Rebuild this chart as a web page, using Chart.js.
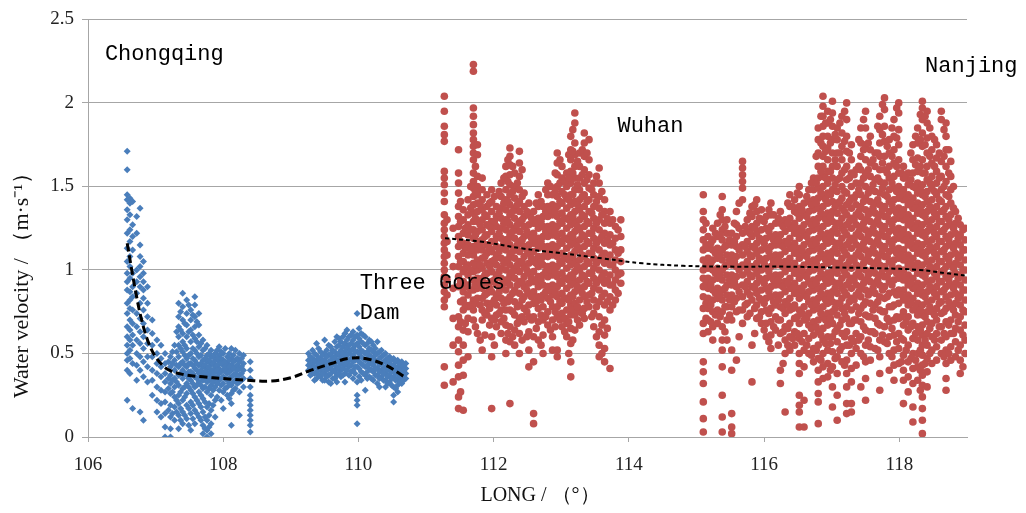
<!DOCTYPE html>
<html>
<head>
<meta charset="utf-8">
<script src="https://cdn.jsdelivr.net/npm/chart.js@4.4.1/dist/chart.umd.min.js"></script>
<style>
  html, body { margin: 0; padding: 0; background: #fff; }
  #wrap { width: 1026px; height: 513px; position: relative; }
</style>
</head>
<body>
<div id="wrap"><canvas id="chartVelocidad"></canvas></div>
<script>
// Velocidad del agua a lo largo del río: cada columna = [longitud, [velocidades...]]

// tramo Chongqing (aguas arriba)
const chongqingCols = [
  [106.58, [1.71, 1.60, 1.45, 1.42, 1.36, 1.30, 1.22, 1.13, 1.05, 0.98, 0.93, 0.88, 0.80, 0.74, 0.66, 0.60, 0.55, 0.50, 0.46, 0.40, 0.22]],
  [106.62, [1.43, 1.40, 1.33, 1.24, 1.17, 1.08, 1.02, 0.95, 0.87, 0.82, 0.77, 0.70, 0.64, 0.58, 0.52, 0.47, 0.38]],
  [106.66, [1.41, 1.27, 1.20, 1.12, 0.98, 0.90, 0.84, 0.76, 0.68, 0.61, 0.55, 0.44, 0.17]],
  [106.72, [1.32, 1.22, 1.00, 0.93, 0.86, 0.74, 0.66, 0.58, 0.50, 0.43, 0.34]],
  [106.77, [1.37, 1.15, 1.08, 1.02, 0.96, 0.90, 0.80, 0.71, 0.63, 0.56, 0.48, 0.40, 0.15]],
  [106.82, [1.05, 0.98, 0.93, 0.88, 0.83, 0.76, 0.68, 0.60, 0.53, 0.45, 0.36, 0.10]],
  [106.88, [0.90, 0.80, 0.72, 0.64, 0.56, 0.48, 0.42, 0.33]],
  [106.95, [0.70, 0.62, 0.55, 0.48, 0.40, 0.34, 0.25]],
  [107.02, [0.58, 0.50, 0.44, 0.38, 0.30, 0.22, 0.15]],
  [107.08, [0.55, 0.47, 0.42, 0.36, 0.28, 0.20, 0.12]],
  [107.14, [0.50, 0.44, 0.38, 0.33, 0.27, 0.21, 0.14, 0.06, 0.00]],
  [107.22, [0.48, 0.42, 0.37, 0.32, 0.26, 0.19, 0.12, 0.05, 0.00]],
  [107.28, [0.55, 0.46, 0.40, 0.35, 0.30, 0.24, 0.18, 0.10]],
  [107.34, [0.80, 0.72, 0.66, 0.60, 0.55, 0.48, 0.42, 0.37, 0.31, 0.25, 0.20, 0.13, 0.05]],
  [107.40, [0.86, 0.78, 0.70, 0.62, 0.57, 0.51, 0.45, 0.40, 0.35, 0.29, 0.22, 0.15, 0.08]],
  [107.46, [0.82, 0.74, 0.67, 0.60, 0.53, 0.47, 0.42, 0.37, 0.32, 0.26, 0.19, 0.11]],
  [107.52, [0.76, 0.70, 0.64, 0.57, 0.50, 0.44, 0.39, 0.34, 0.28, 0.21, 0.14, 0.04]],
  [107.58, [0.84, 0.79, 0.72, 0.66, 0.59, 0.52, 0.46, 0.41, 0.36, 0.30, 0.24, 0.16, 0.08]],
  [107.64, [0.74, 0.67, 0.61, 0.54, 0.48, 0.43, 0.38, 0.33, 0.27, 0.20, 0.12]],
  [107.70, [0.58, 0.52, 0.46, 0.42, 0.38, 0.34, 0.29, 0.23, 0.15, 0.07, 0.02]],
  [107.76, [0.55, 0.49, 0.45, 0.41, 0.37, 0.33, 0.27, 0.18, 0.10, 0.04, 0.00]],
  [107.82, [0.52, 0.48, 0.44, 0.40, 0.36, 0.31, 0.25, 0.16, 0.08, 0.02]],
  [107.88, [0.50, 0.46, 0.42, 0.39, 0.35, 0.30, 0.22, 0.12]],
  [107.94, [0.54, 0.49, 0.45, 0.41, 0.38, 0.34, 0.28]],
  [108.00, [0.50, 0.46, 0.43, 0.40, 0.36, 0.32, 0.27, 0.17]],
  [108.06, [0.48, 0.44, 0.41, 0.38, 0.34, 0.30, 0.25]],
  [108.12, [0.53, 0.47, 0.43, 0.40, 0.36, 0.31, 0.26, 0.20, 0.07]],
  [108.18, [0.52, 0.46, 0.42, 0.38, 0.34, 0.29]],
  [108.24, [0.50, 0.45, 0.41, 0.37, 0.33, 0.27, 0.13]],
  [108.30, [0.49, 0.44, 0.40, 0.35, 0.30]],
  [108.40, [0.45, 0.40, 0.35, 0.30, 0.25, 0.22, 0.19, 0.16, 0.13, 0.10, 0.07, 0.03]],
  // mediciones intermedias
  [107.19, [0.45, 0.35, 0.29, 0.16]],
  [107.25, [0.51, 0.44, 0.34, 0.27, 0.14]],
  [107.31, [0.63, 0.51, 0.43, 0.33, 0.22, 0.15]],
  [107.37, [0.75, 0.64, 0.53, 0.44, 0.38, 0.27, 0.17, 0.10]],
  [107.43, [0.68, 0.55, 0.49, 0.43, 0.38, 0.30, 0.24, 0.13]],
  [107.49, [0.79, 0.63, 0.49, 0.44, 0.39, 0.35, 0.30, 0.17, 0.07]],
  [107.55, [0.73, 0.61, 0.53, 0.47, 0.43, 0.38, 0.32, 0.26, 0.19, 0.11]],
  [107.61, [0.69, 0.57, 0.50, 0.44, 0.40, 0.35, 0.31, 0.22, 0.14]],
  [107.67, [0.56, 0.49, 0.44, 0.40, 0.36, 0.31, 0.25, 0.18, 0.10]],
  [107.73, [0.53, 0.47, 0.43, 0.39, 0.35, 0.30, 0.21, 0.12, 0.05]],
  [107.79, [0.50, 0.46, 0.42, 0.38, 0.34, 0.29, 0.20, 0.13, 0.06]],
  [107.85, [0.48, 0.44, 0.40, 0.37, 0.33, 0.28, 0.19]],
  [107.91, [0.52, 0.47, 0.43, 0.40, 0.36, 0.32, 0.24]],
  [107.97, [0.51, 0.47, 0.44, 0.39, 0.35, 0.31, 0.22]],
  [108.03, [0.53, 0.45, 0.42, 0.39, 0.35, 0.29]],
  [108.09, [0.50, 0.46, 0.42, 0.39, 0.35, 0.32, 0.23]],
  [108.15, [0.49, 0.45, 0.41, 0.37, 0.33, 0.28]],
  [108.21, [0.47, 0.43, 0.40, 0.36, 0.32]],
  [108.27, [0.47, 0.42, 0.38, 0.34]]
];

// tramo de la presa de las Tres Gargantas
const tresGargantasCols = [
  [109.26, [0.50, 0.46, 0.43, 0.40]],
  [109.32, [0.52, 0.47, 0.44, 0.41, 0.38]],
  [109.38, [0.56, 0.49, 0.45, 0.42, 0.39, 0.35]],
  [109.44, [0.51, 0.47, 0.43, 0.40, 0.36]],
  [109.50, [0.58, 0.50, 0.46, 0.42, 0.38, 0.34]],
  [109.56, [0.55, 0.49, 0.45, 0.41, 0.37, 0.33]],
  [109.62, [0.52, 0.48, 0.44, 0.40, 0.35]],
  [109.68, [0.60, 0.54, 0.49, 0.45, 0.41, 0.37, 0.33]],
  [109.74, [0.57, 0.52, 0.48, 0.44, 0.40, 0.36]],
  [109.80, [0.62, 0.56, 0.51, 0.47, 0.43, 0.38, 0.33]],
  [109.86, [0.60, 0.55, 0.50, 0.46, 0.42, 0.37]],
  [109.92, [0.63, 0.58, 0.53, 0.49, 0.45, 0.40, 0.35]],
  [109.98, [0.74, 0.61, 0.56, 0.51, 0.47, 0.42, 0.33, 0.25, 0.22, 0.19, 0.08]],
  [110.04, [0.62, 0.57, 0.52, 0.48, 0.44, 0.39, 0.34]],
  [110.10, [0.60, 0.55, 0.50, 0.46, 0.42, 0.37, 0.28]],
  [110.16, [0.58, 0.53, 0.49, 0.45, 0.41, 0.36]],
  [110.22, [0.55, 0.51, 0.47, 0.43, 0.39, 0.34]],
  [110.28, [0.57, 0.50, 0.45, 0.41, 0.37, 0.32]],
  [110.34, [0.52, 0.48, 0.44, 0.40, 0.36]],
  [110.40, [0.50, 0.46, 0.42, 0.38, 0.34, 0.30]],
  [110.46, [0.48, 0.44, 0.40, 0.37, 0.33]],
  [110.52, [0.47, 0.43, 0.40, 0.36, 0.30, 0.25, 0.21]],
  [110.58, [0.46, 0.42, 0.39, 0.35, 0.31, 0.27]],
  [110.64, [0.45, 0.42, 0.38, 0.35, 0.32]],
  [110.70, [0.44, 0.41, 0.38, 0.35]],
  // mediciones intermedias
  [109.29, [0.48, 0.44, 0.41, 0.37]],
  [109.35, [0.50, 0.46, 0.42, 0.38, 0.34]],
  [109.41, [0.53, 0.47, 0.44, 0.40, 0.37]],
  [109.47, [0.49, 0.45, 0.41, 0.38, 0.34]],
  [109.53, [0.52, 0.48, 0.44, 0.40, 0.36]],
  [109.59, [0.54, 0.50, 0.46, 0.42, 0.38, 0.32]],
  [109.65, [0.57, 0.51, 0.47, 0.43, 0.39, 0.35]],
  [109.71, [0.59, 0.55, 0.50, 0.46, 0.42, 0.38]],
  [109.77, [0.60, 0.54, 0.50, 0.45, 0.41, 0.37]],
  [109.83, [0.64, 0.58, 0.53, 0.49, 0.44, 0.40]],
  [109.89, [0.61, 0.56, 0.52, 0.47, 0.43, 0.39]],
  [109.95, [0.60, 0.55, 0.51, 0.46, 0.42, 0.38]],
  [110.01, [0.65, 0.59, 0.54, 0.50, 0.45, 0.41, 0.36]],
  [110.07, [0.61, 0.56, 0.51, 0.47, 0.43, 0.38]],
  [110.13, [0.56, 0.51, 0.47, 0.43, 0.39, 0.35]],
  [110.19, [0.57, 0.52, 0.48, 0.44, 0.40, 0.35]],
  [110.25, [0.53, 0.49, 0.45, 0.41, 0.37]],
  [110.31, [0.51, 0.47, 0.43, 0.39, 0.35, 0.30]],
  [110.37, [0.49, 0.45, 0.41, 0.38, 0.34]],
  [110.43, [0.47, 0.44, 0.40, 0.36, 0.32]],
  [110.49, [0.46, 0.42, 0.39, 0.35, 0.31]],
  [110.55, [0.45, 0.41, 0.38, 0.34, 0.29]],
  [110.61, [0.44, 0.40, 0.37, 0.33]],
  [110.67, [0.43, 0.40, 0.37, 0.34]]
];

// tramo Wuhan
const wuhanCols = [
  [111.27, [2.04, 1.95, 1.86, 1.81, 1.77, 1.59, 1.55, 1.51, 1.46, 1.41, 1.33, 1.28, 1.24, 1.20, 1.16, 1.12, 1.08, 1.04, 1.00, 0.96, 0.91, 0.87, 0.82, 0.78, 0.42, 0.31]],
  [111.48, [1.72, 1.58, 1.52, 1.46, 1.38, 1.32, 1.26, 1.20, 1.14, 1.08, 1.02, 0.96, 0.90, 0.72, 0.66, 0.58, 0.51, 0.43, 0.36, 0.24, 0.17]],
  [111.55, [1.36, 1.30, 1.22, 1.16, 1.10, 1.05, 0.99, 0.93, 0.87, 0.82, 0.76, 0.64, 0.55, 0.46, 0.37, 0.16]],
  [111.62, [1.42, 1.33, 1.27, 1.21, 1.15, 1.09, 1.03, 0.97, 0.91, 0.85, 0.78, 0.71, 0.63, 0.48]],
  [111.70, [2.23, 2.19, 1.97, 1.92, 1.87, 1.82, 1.78, 1.74, 1.70, 1.66, 1.58, 1.53, 1.49, 1.44, 1.39, 1.34, 1.29, 1.24, 1.19, 1.14, 1.09, 1.04, 0.99, 0.94, 0.88, 0.82, 0.76, 0.70]],
  [111.76, [1.75, 1.69, 1.56, 1.50, 1.45, 1.40, 1.35, 1.29, 1.23, 1.17, 1.12, 1.06, 1.00, 0.95, 0.89, 0.83, 0.62]],
  [111.83, [1.55, 1.48, 1.42, 1.36, 1.30, 1.24, 1.18, 1.12, 1.07, 1.01, 0.95, 0.89, 0.83, 0.76, 0.70, 0.52]],
  [111.90, [1.45, 1.38, 1.32, 1.27, 1.21, 1.15, 1.10, 1.04, 0.98, 0.92, 0.86, 0.80, 0.73]],
  [111.97, [1.48, 1.41, 1.35, 1.29, 1.23, 1.17, 1.11, 1.05, 0.99, 0.93, 0.87, 0.80, 0.71, 0.60, 0.48, 0.17]],
  [112.04, [1.38, 1.32, 1.26, 1.20, 1.14, 1.09, 1.03, 0.97, 0.91, 0.85, 0.79, 0.73, 0.66]],
  [112.11, [1.52, 1.44, 1.37, 1.31, 1.25, 1.19, 1.13, 1.07, 1.01, 0.95, 0.89, 0.83, 0.76, 0.69, 0.62]],
  [112.18, [1.62, 1.56, 1.48, 1.42, 1.36, 1.30, 1.24, 1.18, 1.12, 1.06, 1.00, 0.94, 0.88, 0.82, 0.76, 0.67, 0.58, 0.50]],
  [112.24, [1.73, 1.68, 1.63, 1.57, 1.51, 1.45, 1.39, 1.33, 1.27, 1.21, 1.15, 1.09, 1.03, 0.97, 0.91, 0.84, 0.76, 0.66, 0.57, 0.20]],
  [112.31, [1.58, 1.50, 1.43, 1.37, 1.31, 1.25, 1.19, 1.13, 1.07, 1.01, 0.95, 0.88, 0.81, 0.73, 0.64, 0.55]],
  [112.38, [1.71, 1.64, 1.56, 1.48, 1.41, 1.35, 1.29, 1.23, 1.17, 1.11, 1.05, 0.99, 0.93, 0.86, 0.79, 0.71, 0.62, 0.50]],
  [112.45, [1.46, 1.38, 1.32, 1.26, 1.20, 1.14, 1.08, 1.02, 0.96, 0.90, 0.84, 0.77, 0.69]],
  [112.52, [1.40, 1.33, 1.27, 1.21, 1.15, 1.10, 1.04, 0.98, 0.92, 0.86, 0.79, 0.72, 0.63, 0.52, 0.42]],
  [112.59, [1.35, 1.28, 1.22, 1.16, 1.11, 1.05, 0.99, 0.93, 0.87, 0.80, 0.72, 0.60, 0.45, 0.14, 0.08]],
  [112.66, [1.45, 1.38, 1.31, 1.25, 1.19, 1.13, 1.08, 1.02, 0.96, 0.90, 0.84, 0.77, 0.69, 0.58]],
  [112.73, [1.38, 1.32, 1.26, 1.20, 1.14, 1.08, 1.03, 0.97, 0.91, 0.85, 0.78, 0.70, 0.61, 0.50]],
  [112.80, [1.52, 1.45, 1.38, 1.32, 1.26, 1.20, 1.14, 1.08, 1.02, 0.96, 0.90, 0.83, 0.75, 0.67]],
  [112.87, [1.45, 1.39, 1.33, 1.27, 1.21, 1.15, 1.09, 1.03, 0.97, 0.91, 0.85, 0.78, 0.70, 0.60, 0.52]],
  [112.94, [1.70, 1.64, 1.57, 1.50, 1.44, 1.38, 1.32, 1.26, 1.20, 1.14, 1.08, 1.02, 0.96, 0.90, 0.84, 0.78, 0.72, 0.52, 0.48]],
  [113.01, [1.62, 1.55, 1.47, 1.40, 1.34, 1.28, 1.22, 1.16, 1.10, 1.04, 0.98, 0.92, 0.86, 0.80, 0.74, 0.66]],
  [113.08, [1.58, 1.50, 1.43, 1.37, 1.31, 1.25, 1.19, 1.13, 1.07, 1.01, 0.95, 0.89, 0.83, 0.76, 0.68, 0.60]],
  [113.14, [1.80, 1.72, 1.66, 1.59, 1.52, 1.45, 1.39, 1.33, 1.27, 1.21, 1.15, 1.09, 1.03, 0.97, 0.91, 0.85, 0.79, 0.73, 0.65, 0.56, 0.45, 0.36]],
  [113.20, [1.94, 1.88, 1.76, 1.69, 1.62, 1.55, 1.48, 1.41, 1.35, 1.29, 1.23, 1.17, 1.11, 1.05, 0.99, 0.93, 0.87, 0.80, 0.73, 0.64]],
  [113.27, [1.70, 1.62, 1.55, 1.48, 1.42, 1.36, 1.30, 1.24, 1.18, 1.12, 1.06, 1.00, 0.94, 0.88, 0.82, 0.75, 0.67]],
  [113.34, [1.82, 1.76, 1.68, 1.60, 1.52, 1.45, 1.38, 1.32, 1.26, 1.20, 1.14, 1.08, 1.02, 0.96, 0.90, 0.84, 0.77, 0.71]],
  [113.41, [1.78, 1.66, 1.57, 1.49, 1.42, 1.35, 1.28, 1.22, 1.16, 1.10, 1.04, 0.98, 0.92, 0.85, 0.78]],
  [113.48, [1.52, 1.45, 1.38, 1.31, 1.25, 1.19, 1.13, 1.07, 1.01, 0.95, 0.89, 0.82, 0.74, 0.66]],
  [113.56, [1.61, 1.52, 1.44, 1.37, 1.30, 1.24, 1.18, 1.12, 1.06, 1.00, 0.94, 0.88, 0.81, 0.72, 0.63, 0.55, 0.48]],
  [113.64, [1.42, 1.35, 1.28, 1.22, 1.16, 1.10, 1.04, 0.98, 0.92, 0.86, 0.79, 0.70, 0.61, 0.53, 0.45]],
  [113.72, [1.35, 1.28, 1.21, 1.15, 1.09, 1.03, 0.97, 0.91, 0.84, 0.76, 0.41]],
  [113.80, [1.26, 1.19, 1.12, 1.06, 1.00, 0.94, 0.88, 0.82]],
  [113.88, [1.30, 1.20, 1.12, 1.05, 0.98, 0.92]],
  // mediciones intermedias
  [111.31, [1.30, 1.17, 1.09, 0.94, 0.85]],
  [111.40, [1.25, 1.02, 0.89, 0.71, 0.55, 0.33]],
  [111.51, [1.41, 1.29, 1.17, 1.05, 0.93, 0.81, 0.69, 0.27]],
  [111.58, [1.25, 1.13, 1.01, 0.90, 0.79, 0.68]],
  [111.66, [1.50, 1.37, 1.24, 1.12, 1.00, 0.88, 0.79]],
  [111.73, [1.62, 1.47, 1.31, 1.21, 1.03, 0.91, 0.80, 0.66]],
  [111.80, [1.39, 1.27, 1.15, 1.03, 0.92, 0.79, 0.58]],
  [111.87, [1.33, 1.20, 1.08, 0.97, 0.85, 0.74, 0.61]],
  [111.94, [1.40, 1.26, 1.13, 1.02, 0.89, 0.77, 0.67]],
  [112.01, [1.44, 1.29, 1.17, 1.06, 0.94, 0.82, 0.70, 0.55]],
  [112.08, [1.47, 1.34, 1.22, 1.11, 0.99, 0.87, 0.74]],
  [112.15, [1.55, 1.40, 1.28, 1.16, 1.04, 0.92, 0.80, 0.71]],
  [112.21, [1.66, 1.53, 1.41, 1.29, 1.18, 1.06, 0.94, 0.81, 0.62]],
  [112.28, [1.62, 1.47, 1.35, 1.23, 1.11, 0.99, 0.86, 0.75, 0.60]],
  [112.35, [1.52, 1.39, 1.27, 1.15, 1.03, 0.91, 0.78, 0.68]],
  [112.42, [1.60, 1.44, 1.30, 1.18, 1.05, 0.93, 0.82, 0.72, 0.58]],
  [112.49, [1.35, 1.23, 1.12, 1.00, 0.88, 0.75, 0.60]],
  [112.56, [1.31, 1.19, 1.07, 0.95, 0.84, 0.70]],
  [112.63, [1.40, 1.28, 1.16, 1.04, 0.93, 0.81, 0.65]],
  [112.70, [1.41, 1.29, 1.17, 1.05, 0.94, 0.82, 0.73, 0.55]],
  [112.77, [1.48, 1.35, 1.23, 1.11, 0.99, 0.87, 0.72]],
  [112.84, [1.50, 1.36, 1.24, 1.12, 1.00, 0.88, 0.81, 0.64]],
  [112.91, [1.58, 1.47, 1.35, 1.23, 1.11, 0.99, 0.87, 0.75, 0.66]],
  [112.98, [1.66, 1.52, 1.41, 1.29, 1.17, 1.05, 0.93, 0.81, 0.70]],
  [113.05, [1.53, 1.45, 1.31, 1.19, 1.07, 0.95, 0.83, 0.71, 0.63]],
  [113.11, [1.69, 1.55, 1.42, 1.30, 1.18, 1.06, 0.94, 0.82, 0.69, 0.50]],
  [113.17, [1.84, 1.71, 1.58, 1.45, 1.32, 1.20, 1.08, 0.96, 0.84, 0.76, 0.58]],
  [113.24, [1.65, 1.51, 1.39, 1.26, 1.14, 1.02, 0.90, 0.78, 0.70]],
  [113.31, [1.72, 1.57, 1.44, 1.33, 1.21, 1.09, 0.97, 0.86, 0.74]],
  [113.38, [1.70, 1.54, 1.41, 1.29, 1.17, 1.05, 0.93, 0.81]],
  [113.45, [1.48, 1.34, 1.22, 1.10, 0.98, 0.86, 0.72]],
  [113.52, [1.56, 1.41, 1.28, 1.16, 1.04, 0.92, 0.78, 0.60]],
  [113.60, [1.47, 1.33, 1.20, 1.08, 0.96, 0.84, 0.67, 0.50]],
  [113.68, [1.31, 1.18, 1.06, 0.94, 0.81, 0.65]],
  [113.76, [1.30, 1.16, 1.03, 0.91, 0.79]],
  [113.84, [1.24, 1.10, 0.97, 0.86]]
];

// tramo Nanjing (aguas abajo)
const nanjingCols = [
  [115.10, [1.45, 1.35, 1.30, 1.24, 1.18, 1.12, 1.06, 1.00, 0.95, 0.90, 0.84, 0.77, 0.68, 0.62, 0.45, 0.39, 0.32, 0.21, 0.11, 0.03]],
  [115.17, [1.20, 1.13, 1.07, 1.01, 0.95, 0.89, 0.83, 0.77, 0.70, 0.63]],
  [115.24, [1.25, 1.18, 1.12, 1.06, 1.00, 0.94, 0.88, 0.82, 0.75, 0.66, 0.58]],
  [115.31, [1.28, 1.20, 1.13, 1.07, 1.01, 0.95, 0.89, 0.83, 0.76, 0.68]],
  [115.38, [1.44, 1.36, 1.30, 1.24, 1.18, 1.12, 1.06, 1.00, 0.94, 0.88, 0.82, 0.75, 0.66, 0.58, 0.52, 0.42, 0.25, 0.12, 0.03]],
  [115.45, [1.30, 1.22, 1.15, 1.09, 1.03, 0.97, 0.91, 0.85, 0.78, 0.70, 0.58]],
  [115.52, [1.22, 1.15, 1.09, 1.03, 0.97, 0.91, 0.85, 0.78, 0.70, 0.52, 0.40, 0.14, 0.06, 0.02]],
  [115.59, [1.35, 1.27, 1.20, 1.14, 1.08, 1.02, 0.96, 0.90, 0.83, 0.75, 0.46]],
  [115.68, [1.65, 1.61, 1.57, 1.53, 1.49, 1.42, 1.22, 1.15, 1.09, 1.03, 0.97, 0.91, 0.84, 0.76, 0.68]],
  [115.75, [1.30, 1.23, 1.17, 1.11, 1.05, 0.99, 0.93, 0.87, 0.80, 0.72]],
  [115.82, [1.38, 1.32, 1.26, 1.20, 1.14, 1.08, 1.02, 0.96, 0.90, 0.82, 0.55, 0.33]],
  [115.89, [1.42, 1.35, 1.28, 1.22, 1.16, 1.10, 1.04, 0.98, 0.92, 0.86, 0.79, 0.71]],
  [115.96, [1.36, 1.30, 1.24, 1.18, 1.12, 1.06, 1.00, 0.94, 0.88, 0.82, 0.75, 0.68]],
  [116.03, [1.32, 1.25, 1.19, 1.13, 1.07, 1.01, 0.95, 0.89, 0.83, 0.76, 0.68, 0.60]],
  [116.10, [1.40, 1.33, 1.26, 1.20, 1.14, 1.08, 1.02, 0.96, 0.90, 0.84, 0.77, 0.69, 0.61, 0.53]],
  [116.17, [1.28, 1.21, 1.15, 1.09, 1.03, 0.97, 0.91, 0.85, 0.79, 0.72, 0.64]],
  [116.24, [1.35, 1.28, 1.21, 1.15, 1.09, 1.03, 0.97, 0.91, 0.85, 0.78, 0.70, 0.62, 0.40, 0.32]],
  [116.31, [1.30, 1.23, 1.17, 1.11, 1.05, 0.99, 0.93, 0.87, 0.81, 0.74, 0.66, 0.58, 0.50, 0.15]],
  [116.38, [1.45, 1.38, 1.31, 1.25, 1.19, 1.13, 1.07, 1.01, 0.95, 0.89, 0.83, 0.76, 0.68, 0.60, 0.52]],
  [116.45, [1.42, 1.35, 1.28, 1.22, 1.16, 1.10, 1.04, 0.98, 0.92, 0.86, 0.79, 0.71, 0.63, 0.55]],
  [116.52, [1.50, 1.45, 1.38, 1.31, 1.25, 1.19, 1.13, 1.07, 1.01, 0.95, 0.89, 0.83, 0.76, 0.68, 0.59, 0.50, 0.44, 0.38, 0.25, 0.19, 0.15, 0.06]],
  [116.59, [1.40, 1.33, 1.27, 1.21, 1.15, 1.09, 1.03, 0.97, 0.91, 0.85, 0.78, 0.70, 0.62, 0.52, 0.42, 0.22, 0.06]],
  [116.66, [1.48, 1.41, 1.35, 1.29, 1.23, 1.17, 1.11, 1.05, 0.99, 0.93, 0.87, 0.81, 0.74, 0.67, 0.59, 0.50]],
  [116.73, [1.55, 1.48, 1.42, 1.36, 1.30, 1.24, 1.18, 1.12, 1.06, 1.00, 0.94, 0.88, 0.82, 0.76, 0.69, 0.61, 0.53, 0.45]],
  [116.80, [1.85, 1.78, 1.70, 1.62, 1.55, 1.49, 1.43, 1.37, 1.31, 1.25, 1.19, 1.13, 1.07, 1.01, 0.95, 0.89, 0.83, 0.77, 0.70, 0.63, 0.55, 0.47, 0.40, 0.33, 0.26, 0.21, 0.08]],
  [116.87, [2.04, 1.98, 1.92, 1.86, 1.80, 1.74, 1.68, 1.62, 1.56, 1.50, 1.44, 1.38, 1.32, 1.26, 1.20, 1.14, 1.08, 1.02, 0.96, 0.90, 0.84, 0.78, 0.72, 0.65, 0.58, 0.50, 0.42, 0.35]],
  [116.94, [1.95, 1.88, 1.80, 1.73, 1.66, 1.59, 1.52, 1.46, 1.40, 1.34, 1.28, 1.22, 1.16, 1.10, 1.04, 0.98, 0.92, 0.86, 0.80, 0.74, 0.67, 0.60, 0.52, 0.44, 0.36]],
  [117.01, [2.01, 1.94, 1.86, 1.78, 1.70, 1.62, 1.55, 1.48, 1.41, 1.35, 1.29, 1.23, 1.17, 1.11, 1.05, 0.99, 0.93, 0.87, 0.81, 0.75, 0.68, 0.60, 0.51, 0.42, 0.30, 0.18]],
  [117.08, [1.85, 1.78, 1.70, 1.62, 1.54, 1.47, 1.40, 1.34, 1.28, 1.22, 1.16, 1.10, 1.04, 0.98, 0.92, 0.86, 0.80, 0.73, 0.65, 0.57, 0.48, 0.38, 0.25, 0.10]],
  [117.15, [1.92, 1.82, 1.74, 1.66, 1.58, 1.50, 1.43, 1.37, 1.31, 1.25, 1.19, 1.13, 1.07, 1.01, 0.95, 0.89, 0.83, 0.77, 0.70, 0.62, 0.54, 0.45]],
  [117.22, [2.00, 1.90, 1.80, 1.71, 1.62, 1.54, 1.46, 1.39, 1.33, 1.27, 1.21, 1.15, 1.09, 1.03, 0.97, 0.91, 0.85, 0.78, 0.71, 0.63, 0.55, 0.46, 0.38, 0.30, 0.20, 0.14]],
  [117.29, [1.75, 1.66, 1.58, 1.50, 1.43, 1.37, 1.31, 1.25, 1.19, 1.13, 1.07, 1.01, 0.95, 0.89, 0.83, 0.76, 0.68, 0.59, 0.50, 0.41, 0.33, 0.20, 0.15]],
  [117.36, [1.60, 1.52, 1.45, 1.39, 1.33, 1.27, 1.21, 1.15, 1.09, 1.03, 0.97, 0.91, 0.85, 0.78, 0.70, 0.62, 0.53, 0.43]],
  [117.43, [1.85, 1.76, 1.68, 1.60, 1.52, 1.45, 1.38, 1.32, 1.26, 1.20, 1.14, 1.08, 1.02, 0.96, 0.90, 0.84, 0.77, 0.69, 0.60, 0.50, 0.30]],
  [117.50, [1.95, 1.85, 1.75, 1.66, 1.58, 1.50, 1.43, 1.36, 1.30, 1.24, 1.18, 1.12, 1.06, 1.00, 0.94, 0.88, 0.81, 0.73, 0.64, 0.55, 0.45, 0.35, 0.22]],
  [117.57, [1.80, 1.72, 1.64, 1.56, 1.48, 1.41, 1.35, 1.29, 1.23, 1.17, 1.11, 1.05, 0.99, 0.93, 0.87, 0.80, 0.72, 0.63, 0.54, 0.46]],
  [117.64, [1.70, 1.62, 1.54, 1.47, 1.40, 1.34, 1.28, 1.22, 1.16, 1.10, 1.04, 0.98, 0.92, 0.86, 0.79, 0.71, 0.62, 0.53]],
  [117.71, [1.92, 1.84, 1.76, 1.68, 1.60, 1.53, 1.46, 1.39, 1.33, 1.27, 1.21, 1.15, 1.09, 1.03, 0.97, 0.91, 0.84, 0.76, 0.67, 0.58, 0.48, 0.38, 0.28]],
  [117.78, [2.03, 1.96, 1.86, 1.77, 1.68, 1.60, 1.52, 1.45, 1.38, 1.32, 1.26, 1.20, 1.14, 1.08, 1.02, 0.96, 0.90, 0.83, 0.75, 0.66, 0.57]],
  [117.85, [1.78, 1.70, 1.62, 1.55, 1.48, 1.41, 1.35, 1.29, 1.23, 1.17, 1.11, 1.05, 0.99, 0.93, 0.86, 0.78, 0.69, 0.60, 0.50, 0.40]],
  [117.92, [1.90, 1.80, 1.72, 1.64, 1.56, 1.49, 1.42, 1.36, 1.30, 1.24, 1.18, 1.12, 1.06, 1.00, 0.94, 0.87, 0.79, 0.70, 0.61, 0.52, 0.43, 0.34]],
  [117.99, [2.00, 1.94, 1.84, 1.75, 1.66, 1.58, 1.50, 1.43, 1.37, 1.31, 1.25, 1.19, 1.13, 1.07, 1.01, 0.95, 0.88, 0.80, 0.71, 0.62, 0.53, 0.44]],
  [118.06, [1.62, 1.55, 1.48, 1.42, 1.36, 1.30, 1.24, 1.18, 1.12, 1.06, 1.00, 0.94, 0.88, 0.82, 0.75, 0.67, 0.58, 0.49, 0.40, 0.34, 0.20]],
  [118.13, [1.58, 1.51, 1.45, 1.39, 1.33, 1.27, 1.21, 1.15, 1.09, 1.03, 0.97, 0.91, 0.85, 0.79, 0.72, 0.64, 0.55, 0.45, 0.36, 0.27]],
  [118.20, [1.75, 1.66, 1.58, 1.50, 1.43, 1.37, 1.31, 1.25, 1.19, 1.13, 1.07, 1.01, 0.95, 0.89, 0.83, 0.76, 0.68, 0.59, 0.50, 0.41, 0.32, 0.18, 0.09]],
  [118.27, [1.85, 1.76, 1.67, 1.59, 1.52, 1.46, 1.40, 1.34, 1.28, 1.22, 1.16, 1.10, 1.04, 0.98, 0.92, 0.86, 0.80, 0.73, 0.66, 0.58, 0.50, 0.42, 0.34]],
  [118.34, [2.01, 1.97, 1.90, 1.82, 1.74, 1.66, 1.58, 1.51, 1.45, 1.39, 1.33, 1.27, 1.21, 1.15, 1.09, 1.03, 0.97, 0.91, 0.85, 0.79, 0.73, 0.67, 0.61, 0.55, 0.49, 0.43, 0.37, 0.31, 0.24, 0.17, 0.10, 0.02]],
  [118.41, [1.95, 1.88, 1.79, 1.70, 1.62, 1.54, 1.47, 1.41, 1.35, 1.29, 1.23, 1.17, 1.11, 1.05, 0.99, 0.93, 0.87, 0.81, 0.75, 0.69, 0.62, 0.55, 0.47, 0.39, 0.30]],
  [118.48, [1.80, 1.72, 1.64, 1.56, 1.49, 1.42, 1.36, 1.30, 1.24, 1.18, 1.12, 1.06, 1.00, 0.94, 0.88, 0.82, 0.75, 0.68, 0.60, 0.52, 0.44]],
  [118.55, [1.75, 1.67, 1.59, 1.52, 1.45, 1.38, 1.32, 1.26, 1.20, 1.14, 1.08, 1.02, 0.96, 0.90, 0.84, 0.77, 0.70, 0.62, 0.54, 0.46]],
  [118.62, [1.95, 1.90, 1.65, 1.56, 1.48, 1.41, 1.35, 1.29, 1.23, 1.17, 1.11, 1.05, 0.99, 0.93, 0.87, 0.81, 0.74, 0.66, 0.58, 0.50]],
  [118.69, [1.88, 1.80, 1.72, 1.62, 1.53, 1.45, 1.38, 1.32, 1.26, 1.20, 1.14, 1.08, 1.02, 0.96, 0.90, 0.84, 0.77, 0.69, 0.60, 0.52, 0.44, 0.35, 0.28]],
  [118.76, [1.65, 1.56, 1.48, 1.40, 1.33, 1.27, 1.21, 1.15, 1.09, 1.03, 0.97, 0.91, 0.85, 0.78, 0.70, 0.62, 0.54, 0.46]],
  [118.83, [1.35, 1.28, 1.22, 1.16, 1.10, 1.04, 0.98, 0.92, 0.86, 0.80, 0.73, 0.65, 0.57, 0.48]],
  [118.90, [1.27, 1.21, 1.15, 1.09, 1.03, 0.97, 0.91, 0.85, 0.79, 0.72, 0.64, 0.55, 0.46, 0.38]],
  [118.97, [1.25, 1.18, 1.12, 1.06, 1.00, 0.94, 0.88, 0.82, 0.75, 0.67, 0.58, 0.50]],
  // mediciones intermedias
  [115.14, [1.28, 1.15, 1.03, 0.92, 0.80, 0.71]],
  [115.21, [1.16, 1.04, 0.91, 0.79, 0.69]],
  [115.28, [1.22, 1.10, 0.98, 0.86, 0.73]],
  [115.35, [1.33, 1.21, 1.09, 0.97, 0.85, 0.72]],
  [115.42, [1.26, 1.14, 1.02, 0.89, 0.78, 0.63]],
  [115.49, [1.18, 1.06, 0.94, 0.82, 0.73]],
  [115.56, [1.28, 1.17, 1.05, 0.93, 0.81]],
  [115.63, [1.40, 1.25, 1.12, 1.00, 0.87, 0.76, 0.60]],
  [115.72, [1.26, 1.14, 1.02, 0.90, 0.79]],
  [115.79, [1.34, 1.22, 1.09, 0.97, 0.85, 0.74]],
  [115.86, [1.39, 1.25, 1.13, 1.01, 0.89, 0.77, 0.62]],
  [115.93, [1.31, 1.19, 1.07, 0.95, 0.83, 0.72]],
  [116.00, [1.29, 1.16, 1.04, 0.92, 0.80, 0.64]],
  [116.07, [1.36, 1.23, 1.11, 0.99, 0.87, 0.74, 0.57]],
  [116.14, [1.33, 1.18, 1.05, 0.94, 0.81, 0.66]],
  [116.21, [1.31, 1.18, 1.06, 0.94, 0.82, 0.70, 0.55]],
  [116.28, [1.26, 1.14, 1.02, 0.90, 0.77, 0.63, 0.44]],
  [116.35, [1.40, 1.28, 1.16, 1.04, 0.92, 0.79, 0.65, 0.55]],
  [116.42, [1.38, 1.25, 1.13, 1.01, 0.89, 0.77, 0.59]],
  [116.49, [1.46, 1.34, 1.22, 1.10, 0.98, 0.86, 0.72, 0.62]],
  [116.56, [1.36, 1.24, 1.12, 1.00, 0.88, 0.74, 0.57]],
  [116.63, [1.44, 1.32, 1.20, 1.08, 0.96, 0.84, 0.71, 0.55]],
  [116.70, [1.52, 1.39, 1.27, 1.15, 1.03, 0.91, 0.79, 0.65, 0.49]],
  [116.77, [1.68, 1.52, 1.40, 1.28, 1.16, 1.04, 0.92, 0.80, 0.66, 0.52]],
  [116.84, [1.92, 1.76, 1.59, 1.46, 1.34, 1.22, 1.10, 0.98, 0.86, 0.74, 0.61, 0.46]],
  [116.91, [1.88, 1.71, 1.55, 1.42, 1.30, 1.18, 1.06, 0.94, 0.82, 0.70, 0.56]],
  [116.98, [1.90, 1.76, 1.59, 1.45, 1.32, 1.20, 1.08, 0.96, 0.84, 0.71, 0.56, 0.40]],
  [117.05, [1.81, 1.66, 1.51, 1.38, 1.25, 1.13, 1.01, 0.89, 0.77, 0.63, 0.47]],
  [117.12, [1.88, 1.70, 1.55, 1.41, 1.28, 1.16, 1.04, 0.92, 0.80, 0.67, 0.52]],
  [117.19, [1.95, 1.77, 1.60, 1.47, 1.35, 1.23, 1.11, 0.99, 0.87, 0.74, 0.60, 0.43]],
  [117.26, [1.70, 1.55, 1.41, 1.29, 1.17, 1.05, 0.93, 0.81, 0.68, 0.55]],
  [117.33, [1.57, 1.43, 1.30, 1.18, 1.06, 0.94, 0.82, 0.70, 0.57]],
  [117.40, [1.78, 1.62, 1.48, 1.35, 1.23, 1.11, 0.99, 0.87, 0.74, 0.58]],
  [117.47, [1.90, 1.72, 1.55, 1.41, 1.28, 1.16, 1.04, 0.92, 0.79, 0.66, 0.48]],
  [117.54, [1.76, 1.60, 1.46, 1.33, 1.21, 1.09, 0.97, 0.85, 0.72, 0.58]],
  [117.61, [1.66, 1.51, 1.37, 1.25, 1.13, 1.01, 0.89, 0.76, 0.63]],
  [117.68, [1.86, 1.70, 1.55, 1.42, 1.30, 1.18, 1.06, 0.94, 0.81, 0.68, 0.52]],
  [117.75, [1.99, 1.81, 1.64, 1.49, 1.36, 1.24, 1.12, 1.00, 0.88, 0.75, 0.61]],
  [117.82, [1.74, 1.58, 1.44, 1.32, 1.20, 1.08, 0.96, 0.84, 0.71, 0.56]],
  [117.89, [1.85, 1.68, 1.52, 1.39, 1.27, 1.15, 1.03, 0.91, 0.78, 0.65, 0.48]],
  [117.96, [1.97, 1.79, 1.62, 1.47, 1.34, 1.22, 1.10, 0.98, 0.85, 0.72, 0.57]],
  [118.03, [1.58, 1.45, 1.33, 1.21, 1.09, 0.97, 0.85, 0.72, 0.59, 0.45]],
  [118.10, [1.55, 1.42, 1.30, 1.18, 1.06, 0.94, 0.82, 0.69, 0.52]],
  [118.17, [1.70, 1.54, 1.40, 1.28, 1.16, 1.04, 0.92, 0.80, 0.66, 0.47]],
  [118.24, [1.80, 1.63, 1.49, 1.37, 1.25, 1.13, 1.01, 0.89, 0.77, 0.62, 0.46]],
  [118.31, [1.93, 1.78, 1.62, 1.48, 1.36, 1.24, 1.12, 1.00, 0.88, 0.76, 0.64, 0.52, 0.40, 0.28]],
  [118.38, [1.92, 1.75, 1.58, 1.44, 1.32, 1.20, 1.08, 0.96, 0.84, 0.72, 0.58, 0.44]],
  [118.45, [1.85, 1.68, 1.52, 1.38, 1.26, 1.14, 1.02, 0.90, 0.78, 0.65, 0.50]],
  [118.52, [1.78, 1.62, 1.47, 1.34, 1.22, 1.10, 0.98, 0.86, 0.73, 0.58]],
  [118.59, [1.70, 1.55, 1.42, 1.29, 1.17, 1.05, 0.93, 0.80, 0.66]],
  [118.66, [1.84, 1.68, 1.50, 1.36, 1.24, 1.12, 1.00, 0.88, 0.75, 0.62, 0.48]],
  [118.73, [1.72, 1.58, 1.44, 1.30, 1.18, 1.06, 0.94, 0.81, 0.67, 0.50]],
  [118.80, [1.50, 1.37, 1.25, 1.13, 1.01, 0.89, 0.76, 0.62]],
  [118.87, [1.31, 1.19, 1.07, 0.95, 0.83, 0.69, 0.52]],
  [118.94, [1.24, 1.12, 1.00, 0.88, 0.76, 0.61, 0.42]]
];

// líneas de tendencia
const tendArribaLong = [106.58, 106.7, 106.8, 106.9, 107.0, 107.1, 107.2, 107.4, 107.7, 108.0, 108.35, 108.7, 109.0, 109.3, 109.6, 109.85, 110.1, 110.4, 110.68];
const tendArribaVel  = [1.16, 0.88, 0.69, 0.56, 0.48, 0.43, 0.40, 0.375, 0.36, 0.35, 0.34, 0.335, 0.355, 0.40, 0.44, 0.47, 0.47, 0.43, 0.36];
const tendAbajoLong = [111.28, 111.8, 112.4, 113.0, 113.6, 114.2, 114.8, 115.5, 116.3, 117.0, 117.7, 118.3, 118.7, 119.0];
const tendAbajoVel  = [1.19, 1.17, 1.13, 1.10, 1.07, 1.04, 1.025, 1.02, 1.02, 1.015, 1.01, 1.0, 0.98, 0.965];

// etiquetas de las ciudades [texto, longitud, velocidad]
const ciudades = [
  ['Chongqing', 106.25, 2.29],
  ['Three Gores', 110.02, 0.92],
  ['Dam', 110.02, 0.74],
  ['Wuhan', 113.83, 1.86],
  ['Nanjing', 118.38, 2.22]
];

const AZUL = '#4a7ebb';
const ROJO = '#c0504d';
const GRIS = '#a6a6a6';
const SERIF = '"Liberation Serif", "Times New Roman", serif';

function aPuntos(cols) {
  const pts = [];
  cols.forEach(([x, vs]) => vs.forEach(v => pts.push({ x: x, y: v })));
  return pts;
}

function aLinea(xs, ys) {
  return xs.map((x, i) => ({ x: x, y: ys[i] }));
}

// textos fijos: títulos de ejes y nombres de ciudades
const textosPlugin = {
  id: 'textos',
  afterDraw(chart) {
    const ctx = chart.ctx;
    const sx = chart.scales.x, sy = chart.scales.y;
    ctx.save();
    ctx.fillStyle = '#000';
    ctx.textBaseline = 'middle';
    ctx.textAlign = 'left';
    ctx.font = '22px "Liberation Mono", monospace';
    ciudades.forEach(([t, lon, vel]) => {
      ctx.fillText(t, sx.getPixelForValue(lon), sy.getPixelForValue(vel));
    });

    ctx.fillStyle = '#111';
    ctx.font = '20px ' + SERIF;
    ctx.textAlign = 'center';
    ctx.fillText('LONG / （°）', 540, 496);

    ctx.font = '22px ' + SERIF;
    ctx.translate(22, 280);
    ctx.rotate(-Math.PI / 2);
    ctx.fillText('Water velocity / （m·s⁻¹）', 0, 0);
    ctx.restore();
  }
};

function dibujarGrafica() {
  const ctx = document.getElementById('chartVelocidad').getContext('2d');
  new Chart(ctx, {
    type: 'scatter',
    data: {
      datasets: [
        {
          data: aLinea(tendArribaLong, tendArribaVel),
          showLine: true,
          borderColor: '#000',
          borderWidth: 3,
          borderDash: [8, 4],
          pointRadius: 0,
          tension: 0.4,
          order: 0
        },
        {
          data: aLinea(tendAbajoLong, tendAbajoVel),
          showLine: true,
          borderColor: '#000',
          borderWidth: 2,
          borderDash: [4, 3],
          pointRadius: 0,
          tension: 0.4,
          order: 0
        },
        {
          data: aPuntos(chongqingCols).concat(aPuntos(tresGargantasCols)),
          pointStyle: 'rectRot',
          pointRadius: 3.5,
          backgroundColor: AZUL,
          borderColor: AZUL,
          borderWidth: 0,
          order: 1
        },
        {
          data: aPuntos(wuhanCols).concat(aPuntos(nanjingCols)),
          pointStyle: 'circle',
          pointRadius: 3.8,
          backgroundColor: ROJO,
          borderColor: ROJO,
          borderWidth: 0,
          order: 1
        }
      ]
    },
    options: {
      responsive: true,
      maintainAspectRatio: false,
      animation: false,
      layout: { padding: { left: 0, top: 15, right: 59, bottom: 0 } },
      plugins: {
        legend: { display: false },
        tooltip: { enabled: false }
      },
      scales: {
        x: {
          type: 'linear',
          min: 106,
          max: 119,
          afterBuildTicks: s => { s.ticks = s.ticks.filter(t => t.value % 2 === 0); },
          afterFit: s => { s.height = 76; },
          ticks: {
            stepSize: 2,
            color: '#222',
            padding: 12,
            font: { family: SERIF, size: 19 }
          },
          grid: { drawOnChartArea: false, drawTicks: true, tickLength: 5, color: GRIS },
          border: { display: true, color: GRIS, width: 1 }
        },
        y: {
          min: 0,
          max: 2.5,
          afterFit: s => { s.width = 88; },
          ticks: {
            stepSize: 0.5,
            color: '#222',
            padding: 8,
            font: { family: SERIF, size: 19 },
            callback: v => String(v)
          },
          grid: { color: GRIS, tickLength: 6, lineWidth: 1 },
          border: { display: true, color: GRIS, width: 1 }
        }
      }
    },
    plugins: [textosPlugin]
  });
}

window.onload = dibujarGrafica;
</script>
</body>
</html>
